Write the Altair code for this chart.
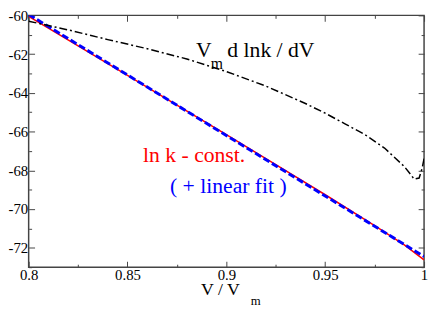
import altair as alt
import pandas as pd

# ---- data ----
x_lnk = [0.80, 0.825, 0.85, 0.875, 0.90, 0.925, 0.95, 0.975, 0.99, 1.0]
y_lnk = [-60.05, -61.57, -63.10, -64.63, -66.16, -67.70, -69.26, -70.85, -71.85, -72.62]

x_fit = [0.80, 1.0]
y_fit = [-59.95, -72.45]

x_deriv = [0.80, 0.82, 0.84, 0.86, 0.88, 0.90, 0.92, 0.94, 0.95, 0.96, 0.97,
           0.98, 0.99, 0.995, 0.9975, 0.999, 1.0]
y_deriv = [-60.30, -60.75, -61.25, -61.72, -62.25, -62.90, -63.65, -64.55, -65.05,
           -65.60, -66.15, -66.85, -67.80, -68.45, -68.40, -67.90, -67.40]

x_major = [0.8, 0.85, 0.9, 0.95, 1.0]
x_minor = [0.825, 0.875, 0.925, 0.975]
y_major = [-60, -62, -64, -66, -68, -70, -72]
y_minor = [-61, -63, -65, -67, -69, -71, -73]

# annotations (text, x, y in data units)
ann_main_text = ["V", "d lnk / dV"]
ann_main_x = [0.8847, 0.9005]
ann_main_y = [-62.17, -62.17]
ann_sub_text = ["m"]
ann_sub_x = [0.8921]
ann_sub_y = [-62.75]

ann_red_text = ["ln k - const."]
ann_red_x = [0.8837]
ann_red_y = [-67.57]

ann_blue_text = ["( + linear fit )"]
ann_blue_x = [0.9010]
ann_blue_y = [-69.17]

xtitle_text = ["V / V"]
xtitle_x = [0.8872]
xtitle_y = [-74.45]
xtitle_sub_text = ["m"]
xtitle_sub_x = [0.9123]
xtitle_sub_y = [-74.95]

FONT = "Liberation Serif"
FRAME = "#444444"
W, H = 402, 256

xs = alt.Scale(domain=[0.8, 1.0], nice=False, zero=False)
ys = alt.Scale(domain=[-73, -60], nice=False, zero=False)


def ax(orient, values, size, labels):
    kw = dict(orient=orient, values=values, tickSize=size, offset=-size,
              domain=False, grid=False, title=None, ticks=True,
              tickColor=FRAME, tickWidth=1, labels=labels)
    if labels:
        kw.update(labelFont=FONT, labelFontSize=15, labelColor="black",
                  labelPadding=1, labelFlush=False, labelOverlap=False,
                  labelExpr="'' + datum.value")
    return alt.Axis(**kw)


carrier_df = pd.DataFrame({"x": [0.8, 1.0], "y": [-73, -60]})


def carrier(xaxis, yaxis):
    return alt.Chart(carrier_df).mark_point(opacity=0).encode(
        x=alt.X("x:Q", scale=xs, axis=xaxis),
        y=alt.Y("y:Q", scale=ys, axis=yaxis),
    )


c1 = carrier(ax("bottom", x_major, 6, True), ax("left", y_major, 6, True))
c2 = carrier(ax("top", x_major, 6, False), ax("right", y_major, 6, False))
c3 = carrier(ax("bottom", x_minor, 3, False), ax("left", y_minor, 3, False))
c4 = carrier(ax("top", x_minor, 3, False), ax("right", y_minor, 3, False))


def line(xv, yv, **mk):
    df = pd.DataFrame({"x": xv, "y": yv})
    return alt.Chart(df).mark_line(clip=True, **mk).encode(
        x=alt.X("x:Q", scale=xs, axis=None),
        y=alt.Y("y:Q", scale=ys, axis=None),
        order=alt.Order("x:Q"),
    )


red = line(x_lnk, y_lnk, color="#ff0000", strokeWidth=1.5)
blue = line(x_fit, y_fit, color="#0000ff", strokeWidth=3, strokeDash=[7, 3])
black = line(x_deriv, y_deriv, color="black", strokeWidth=1.5, strokeDash=[8, 3, 2, 3])


def texts(tv, xv, yv, size, color, align):
    df = pd.DataFrame({"x": xv, "y": yv, "t": tv})
    return alt.Chart(df).mark_text(align=align, baseline="alphabetic", font=FONT,
                                   fontSize=size, color=color).encode(
        x=alt.X("x:Q", scale=xs, axis=None),
        y=alt.Y("y:Q", scale=ys, axis=None),
        text="t:N",
    )


t_main = texts(ann_main_text, ann_main_x, ann_main_y, 22, "black", "left")
t_sub = texts(ann_sub_text, ann_sub_x, ann_sub_y, 16, "black", "left")
t_red = texts(ann_red_text, ann_red_x, ann_red_y, 22, "#ff0000", "center")
t_blue = texts(ann_blue_text, ann_blue_x, ann_blue_y, 22, "#0000ff", "center")
t_title = texts(xtitle_text, xtitle_x, xtitle_y, 18, "black", "left")
t_title_sub = texts(xtitle_sub_text, xtitle_sub_x, xtitle_sub_y, 13, "black", "left")

chart = alt.layer(
    c1, c2, c3, c4, red, blue, black, t_main, t_sub, t_red, t_blue, t_title, t_title_sub
).resolve_axis(
    x="independent", y="independent"
).properties(
    width=W, height=H,
    autosize=alt.AutoSizeParams(type="none"),
    padding={"left": 21, "top": 5, "right": 4, "bottom": 40},
    background="white",
).configure_view(
    stroke=FRAME, strokeWidth=1.5
)

chart.save("out.html", embed_options={"renderer": "svg", "actions": False})
